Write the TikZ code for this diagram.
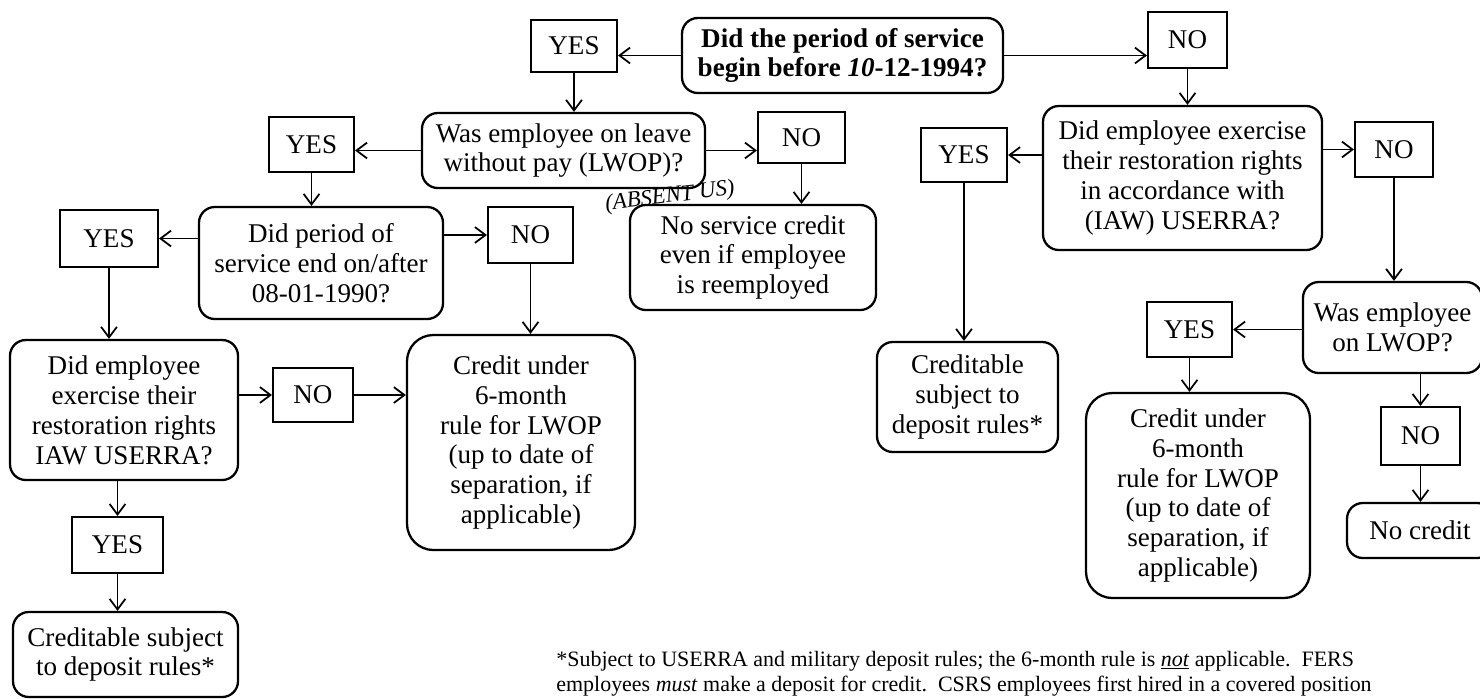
\documentclass[tikz,border=0pt]{standalone}
\usepackage{fontspec}
\setmainfont{Liberation Serif}
\usetikzlibrary{arrows.meta}
\newlength\px
\setlength\px{0.02cm}

\begin{document}
\begin{tikzpicture}[x=1\px,y=-1\px,
    ans/.style={draw,line width=1.2pt,inner sep=0pt,font=\fontsize{15.4}{17}\selectfont},
    ques/.style={draw,line width=1.3pt,rounded corners=9pt,inner sep=0pt,align=center,font=\fontsize{15.4}{17}\selectfont},
    res/.style={ques,rounded corners=15pt},
    arr/.style={line width=1pt,-{Straight Barb[length=6pt,width=9pt,line width=1pt]}}]
    \useasboundingbox (0,0) rectangle (1480,698);

    % first question
    \node[ques,font=\bfseries\fontsize{15.4}{17}\selectfont,minimum width=321\px,minimum height=75\px] (q1) at (842.5,55.5) {Did the period of service\\begin before \textit{10}-12-1994?};
    \node[ans,minimum width=86\px,minimum height=52\px] (yes1) at (574,46) {YES};
    \node[ans,minimum width=79\px,minimum height=56\px] (no1) at (1187.5,40) {NO};

    % before 10-12-1994
    \node[ques,minimum width=283\px,minimum height=75\px] (q2) at (563.5,150.5) {Was employee on leave\\without pay (LWOP)?};
    \node[ans,minimum width=85\px,minimum height=55\px] (yes2) at (311.5,144.5) {YES};
    \node[ans,minimum width=87\px,minimum height=51\px] (no2) at (801.5,137.5) {NO};
    \node[rotate=7,font=\itshape\fontsize{13}{13}\selectfont] (absent) at (670,197) {(ABSENT US)};
    \node[ques,minimum width=246\px,minimum height=105\px] (nosc) at (753,257.5) {No service credit\\even if employee\\is reemployed};

    \node[ques,minimum width=244\px,minimum height=112\px] (q3) at (321,263) {Did period of\\service end on/after\\08-01-1990?};
    \node[ans,minimum width=98\px,minimum height=57\px] (yes3) at (109,238.5) {YES};
    \node[ans,minimum width=85\px,minimum height=56\px] (no3) at (530.5,235) {NO};

    \node[ques,minimum width=228\px,minimum height=140\px] (q4) at (124,410) {Did employee\\exercise their\\restoration rights\\IAW USERRA?};
    \node[ans,minimum width=80\px,minimum height=54\px] (no4) at (313,395) {NO};
    \node[res,minimum width=228\px,minimum height=215\px] (cred1) at (521,442.5) {Credit under\\6-month\\rule for LWOP\\(up to date of\\separation, if\\applicable)};
    \node[ans,minimum width=91\px,minimum height=56\px] (yes5) at (117.5,545) {YES};
    \node[ques,minimum width=225\px,minimum height=85\px] (credL) at (125.5,654.5) {Creditable subject\\to deposit rules*};

    % on/after 10-12-1994
    \node[ques,minimum width=279\px,minimum height=144\px] (q5) at (1182.5,178) {Did employee exercise\\their restoration rights\\in accordance with\\(IAW) USERRA?};
    \node[ans,minimum width=86\px,minimum height=54\px] (yesR) at (964,155) {YES};
    \node[ans,minimum width=78\px,minimum height=55\px] (no5) at (1394,149.5) {NO};
    \node[ques,minimum width=181\px,minimum height=110\px] (credR) at (967.5,397) {Creditable\\subject to\\deposit rules*};

    \node[ques,minimum width=179\px,minimum height=91\px] (lwop) at (1392.5,327.5) {Was employee\\on LWOP?};
    \node[ans,minimum width=85\px,minimum height=55\px] (yes6) at (1189.5,329.5) {YES};
    \node[res,minimum width=224\px,minimum height=205\px] (cred2) at (1198,495.5) {Credit under\\6-month\\rule for LWOP\\(up to date of\\separation, if\\applicable)};
    \node[ans,minimum width=79\px,minimum height=58\px] (no6) at (1420.5,436) {NO};
    \node[ques,minimum width=146\px,minimum height=55\px] (nocr) at (1420,530.5) {No credit};

    \node[anchor=base west,inner sep=0pt,font=\fontsize{12.5}{15}\selectfont] (note1) at (556,666) {*Subject to USERRA and military deposit rules; the 6-month rule is \underline{\textit{not}} applicable.\ \ FERS};
    \node[anchor=base west,inner sep=0pt,font=\fontsize{12.5}{15}\selectfont] (note2) at (556,691) {employees \textit{must} make a deposit for credit.\ \ CSRS employees first hired in a covered position};

    \draw[arr] (q1.west) -- (q1.west -| yes1.east);
    \draw[arr] (q1.east) -- (q1.east -| no1.west);
    \draw[arr] (yes1.south) -- (yes1.south |- q2.north);
    \draw[arr] (no1.south) -- (no1.south |- q5.north);

    \draw[arr] (q2.west) -- (q2.west -| yes2.east);
    \draw[arr] (q2.east) -- (q2.east -| no2.west);
    \draw[arr] (yes2.south) -- (yes2.south |- q3.north);
    \draw[arr] (no2.south) -- (no2.south |- nosc.north);

    \draw[arr] (q3.west |- yes3) -- (yes3.east);
    \draw[arr] (q3.east |- no3) -- (no3.west);
    \draw[arr] (yes3.south) -- (yes3.south |- q4.north);
    \draw[arr] (no3.south) -- (no3.south |- cred1.north);

    \draw[arr] (q4.east |- no4) -- (no4.west);
    \draw[arr] (no4.east) -- (no4.east -| cred1.west);
    \draw[arr] (yes5.north |- q4.south) -- (yes5.north);
    \draw[arr] (yes5.south) -- (yes5.south |- credL.north);

    \draw[arr] (q5.west |- yesR) -- (yesR.east);
    \draw[arr] (q5.east |- no5) -- (no5.west);
    \draw[arr] (yesR.south) -- (yesR.south |- credR.north);
    \draw[arr] (no5.south) -- (no5.south |- lwop.north);

    \draw[arr] (lwop.west |- yes6) -- (yes6.east);
    \draw[arr] (yes6.south) -- (yes6.south |- cred2.north);
    \draw[arr] (no6.north |- lwop.south) -- (no6.north);
    \draw[arr] (no6.south) -- (no6.south |- nocr.north);
\end{tikzpicture}
\end{document}
